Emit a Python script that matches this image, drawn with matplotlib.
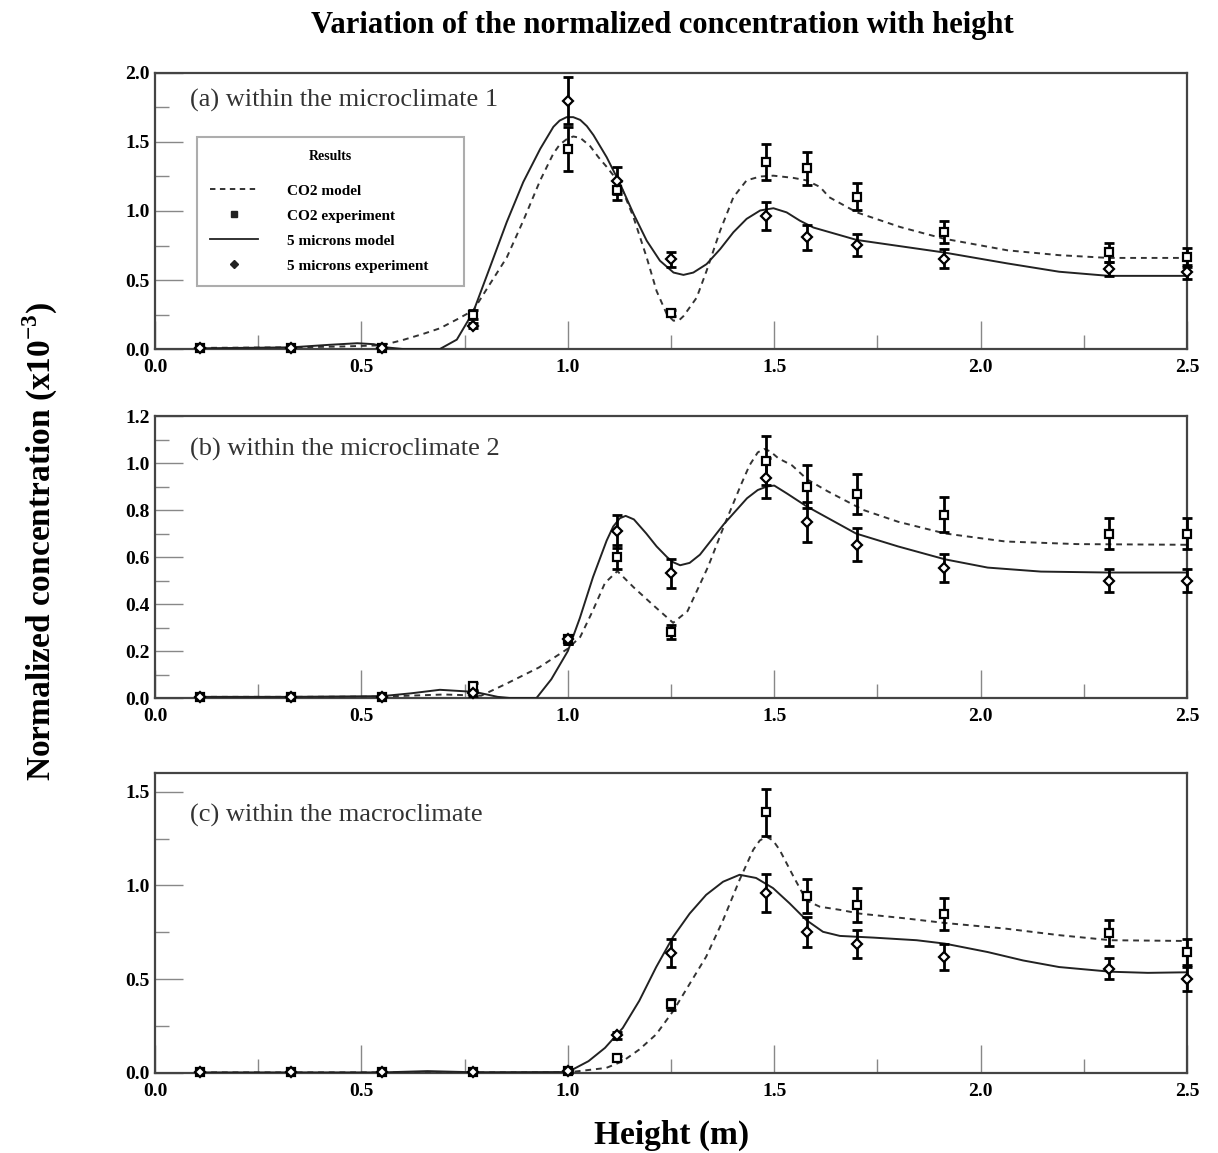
import matplotlib
matplotlib.use("Agg")
import matplotlib.pyplot as plt
from matplotlib.lines import Line2D
from matplotlib.ticker import MultipleLocator, FormatStrFormatter

plt.rcParams['font.family'] = ['Liberation Serif', 'DejaVu Serif']
plt.rcParams['mathtext.fontset'] = 'custom'
plt.rcParams['mathtext.rm'] = 'Liberation Serif'
plt.rcParams['mathtext.bf'] = 'Liberation Serif:bold'

# measurement heights (m)
heights = [0.11, 0.33, 0.55, 0.77, 1.00, 1.12, 1.25, 1.48, 1.58, 1.70, 1.91, 2.31, 2.50]

# (a) microclimate 1 - experiments
co2_exp_a = [0.005, 0.005, 0.005, 0.25, 1.45, 1.15, 0.26, 1.355, 1.31, 1.105, 0.85, 0.70, 0.665]
co2_err_a = [0, 0, 0, 0.03, 0.16, 0.07, 0.02, 0.13, 0.12, 0.10, 0.08, 0.07, 0.07]
p5_exp_a = [0.005, 0.005, 0.01, 0.17, 1.80, 1.22, 0.65, 0.965, 0.81, 0.755, 0.655, 0.58, 0.56]
p5_err_a = [0, 0, 0, 0.02, 0.17, 0.10, 0.055, 0.10, 0.09, 0.08, 0.07, 0.05, 0.05]

# (a) models
co2_mod_a_x = [0.11, 0.33, 0.45, 0.55, 0.60, 0.65, 0.69, 0.731, 0.771, 0.811, 0.852, 0.892, 0.933,
               0.965, 0.980, 0.997, 1.013, 1.030, 1.054, 1.074, 1.094, 1.126, 1.159, 1.191, 1.215,
               1.240, 1.256, 1.270, 1.280, 1.312, 1.336, 1.369, 1.401, 1.433, 1.466, 1.498, 1.546,
               1.578, 1.611, 1.633, 1.70, 1.805, 1.91, 2.065, 2.19, 2.31, 2.50]
co2_mod_a_y = [0.008, 0.012, 0.018, 0.027, 0.065, 0.11, 0.15, 0.214, 0.28, 0.47, 0.663, 0.93, 1.222,
               1.417, 1.48, 1.52, 1.54, 1.53, 1.47, 1.39, 1.32, 1.198, 0.955, 0.663, 0.42,
               0.25, 0.205, 0.21, 0.238, 0.372, 0.566, 0.858, 1.10, 1.222, 1.25, 1.256, 1.24,
               1.222, 1.174, 1.10, 0.99, 0.884, 0.80, 0.715, 0.68, 0.66, 0.66]
p5_mod_a_x = [0.11, 0.33, 0.42, 0.49, 0.53, 0.56, 0.60, 0.69, 0.731, 0.771, 0.811, 0.852, 0.892,
              0.933, 0.965, 0.980, 0.997, 1.013, 1.030, 1.046, 1.062, 1.094, 1.126, 1.159, 1.191,
              1.223, 1.256, 1.280, 1.304, 1.336, 1.369, 1.401, 1.433, 1.466, 1.498, 1.530, 1.562,
              1.595, 1.70, 1.91, 2.065, 2.19, 2.31, 2.50]
p5_mod_a_y = [0.005, 0.012, 0.03, 0.042, 0.035, 0.012, 0.0, 0.0, 0.068, 0.27, 0.59, 0.92, 1.21,
              1.45, 1.61, 1.655, 1.68, 1.68, 1.66, 1.615, 1.55, 1.39, 1.20, 0.98, 0.785,
              0.64, 0.554, 0.537, 0.554, 0.615, 0.724, 0.846, 0.943, 1.004, 1.02, 0.99, 0.93,
              0.88, 0.79, 0.70, 0.62, 0.56, 0.53, 0.53]

# (b) microclimate 2 - experiments
co2_exp_b = [0.005, 0.005, 0.005, 0.05, 0.25, 0.60, 0.28, 1.01, 0.90, 0.868, 0.78, 0.70, 0.70]
co2_err_b = [0, 0, 0, 0.015, 0.02, 0.05, 0.03, 0.105, 0.09, 0.085, 0.075, 0.065, 0.065]
p5_exp_b = [0.005, 0.005, 0.005, 0.02, 0.25, 0.71, 0.53, 0.935, 0.75, 0.652, 0.552, 0.50, 0.50]
p5_err_b = [0, 0, 0, 0.01, 0.02, 0.07, 0.06, 0.085, 0.085, 0.07, 0.06, 0.05, 0.05]

co2_mod_b_x = [0.11, 0.33, 0.55, 0.70, 0.79, 0.85, 0.93, 1.00, 1.03, 1.06, 1.09, 1.12, 1.16, 1.21,
               1.255, 1.29, 1.34, 1.38, 1.42, 1.44, 1.46, 1.475, 1.49, 1.51, 1.543, 1.58, 1.629,
               1.716, 1.80, 1.914, 2.06, 2.233, 2.50]
co2_mod_b_y = [0.005, 0.005, 0.006, 0.015, 0.01, 0.06, 0.13, 0.21, 0.26, 0.37, 0.49, 0.54, 0.47, 0.39,
               0.32, 0.37, 0.56, 0.74, 0.91, 0.99, 1.045, 1.06, 1.05, 1.02, 0.99, 0.93, 0.88,
               0.80, 0.75, 0.70, 0.666, 0.655, 0.652]
p5_mod_b_x = [0.11, 0.33, 0.55, 0.62, 0.69, 0.775, 0.83, 0.86, 0.924, 0.96, 1.00, 1.029, 1.061,
              1.094, 1.11, 1.126, 1.14, 1.16, 1.19, 1.215, 1.24, 1.255, 1.272, 1.295, 1.32, 1.378,
              1.434, 1.46, 1.482, 1.50, 1.531, 1.578, 1.698, 1.80, 1.914, 2.017, 2.146, 2.31, 2.50]
p5_mod_b_y = [0.005, 0.005, 0.008, 0.02, 0.035, 0.026, 0.005, 0.0, 0.0, 0.08, 0.20, 0.34, 0.515,
              0.67, 0.73, 0.765, 0.775, 0.76, 0.70, 0.645, 0.60, 0.578, 0.565, 0.575, 0.61, 0.74,
              0.85, 0.885, 0.90, 0.904, 0.87, 0.816, 0.70, 0.645, 0.59, 0.555, 0.538, 0.534, 0.534]

# (c) macroclimate - experiments
co2_exp_c = [0.003, 0.003, 0.003, 0.003, 0.01, 0.08, 0.367, 1.39, 0.944, 0.896, 0.848, 0.747, 0.645]
co2_err_c = [0, 0, 0, 0, 0.01, 0.01, 0.03, 0.125, 0.09, 0.09, 0.085, 0.07, 0.07]
p5_exp_c = [0.003, 0.003, 0.003, 0.003, 0.01, 0.20, 0.64, 0.96, 0.75, 0.69, 0.618, 0.556, 0.50]
p5_err_c = [0, 0, 0, 0, 0.01, 0.02, 0.075, 0.10, 0.08, 0.075, 0.07, 0.055, 0.065]

co2_mod_c_x = [0.11, 0.55, 0.77, 1.00, 1.093, 1.133, 1.173, 1.214, 1.255, 1.295, 1.335, 1.376,
               1.416, 1.449, 1.465, 1.481, 1.497, 1.513, 1.546, 1.578, 1.61, 1.659, 1.707, 1.82,
               1.913, 2.06, 2.19, 2.315, 2.50]
co2_mod_c_y = [0.003, 0.003, 0.003, 0.003, 0.027, 0.063, 0.125, 0.206, 0.33, 0.475, 0.62, 0.815,
               1.03, 1.19, 1.24, 1.26, 1.24, 1.19, 1.05, 0.92, 0.887, 0.87, 0.85, 0.824,
               0.80, 0.77, 0.735, 0.708, 0.704]
p5_mod_c_x = [0.11, 0.55, 0.66, 0.77, 1.00, 1.05, 1.09, 1.133, 1.173, 1.214, 1.255, 1.295, 1.335,
              1.376, 1.416, 1.456, 1.497, 1.537, 1.578, 1.618, 1.659, 1.74, 1.845, 1.913, 2.017,
              2.103, 2.19, 2.315, 2.405, 2.50]
p5_mod_c_y = [0.003, 0.003, 0.01, 0.004, 0.005, 0.063, 0.134, 0.24, 0.385, 0.565, 0.726, 0.85, 0.95,
              1.02, 1.057, 1.04, 0.986, 0.905, 0.815, 0.753, 0.731, 0.722, 0.708, 0.69, 0.645,
              0.60, 0.565, 0.54, 0.534, 0.537]

panel_labels = ["(a) within the microclimate 1", "(b) within the microclimate 2",
                "(c) within the macroclimate"]


def draw_points(ax, y, err, marker):
    """open markers with capped error bars (bars only where there is an error)"""
    idx = [i for i in range(len(err)) if err[i] > 0]
    ax.errorbar([heights[i] for i in idx], [y[i] for i in idx], yerr=[err[i] for i in idx],
                fmt='none', ecolor='black', elinewidth=2.0, capsize=3.5, capthick=2.0,
                clip_on=False, zorder=4)
    ax.plot(heights, y, ls='none', marker=marker, ms=5.5, mfc='white', mec='black', mew=1.6,
            clip_on=False, zorder=5)


def draw_panel(ax, co2x, co2y, p5x, p5y, co2, co2e, p5, p5e, label, ymax, ymaj, ymin, label_y):
    ax.plot(co2x, co2y, ls=(0, (3, 2.5)), color='#333333', lw=1.4, zorder=3)
    ax.plot(p5x, p5y, ls='-', color='#222222', lw=1.4, zorder=3)
    draw_points(ax, co2, co2e, 's')
    draw_points(ax, p5, p5e, 'D')

    ax.set_xlim(0, 2.5)
    ax.set_ylim(0, ymax)
    ax.xaxis.set_major_locator(MultipleLocator(0.5))
    ax.xaxis.set_minor_locator(MultipleLocator(0.25))
    ax.yaxis.set_major_locator(MultipleLocator(ymaj))
    ax.yaxis.set_minor_locator(MultipleLocator(ymin))
    ax.xaxis.set_major_formatter(FormatStrFormatter('%.1f'))
    ax.yaxis.set_major_formatter(FormatStrFormatter('%.1f'))
    ax.tick_params(which='both', direction='in', color='#888888', width=1.0)
    ax.tick_params(which='major', length=20, labelsize=14)
    ax.tick_params(axis='x', which='major', pad=7)
    ax.tick_params(axis='y', which='major', pad=4)
    ax.tick_params(which='minor', length=10)
    for t in ax.get_xticklabels() + ax.get_yticklabels():
        t.set_fontweight('bold')
    for s in ax.spines.values():
        s.set_color('#444444')
        s.set_linewidth(1.6)
    ax.text(0.034, label_y, label, transform=ax.transAxes, fontsize=19, color='#333333',
            va='center', ha='left')


fig = plt.figure(figsize=(12.18, 11.53), dpi=100)
ax_a = fig.add_axes([0.1273, 0.6973, 0.8473, 0.2394])
ax_b = fig.add_axes([0.1273, 0.3946, 0.8473, 0.2446])
ax_c = fig.add_axes([0.1273, 0.0694, 0.8473, 0.2602])

draw_panel(ax_a, co2_mod_a_x, co2_mod_a_y, p5_mod_a_x, p5_mod_a_y,
           co2_exp_a, co2_err_a, p5_exp_a, p5_err_a, panel_labels[0], 2.0, 0.5, 0.25, 0.90)
draw_panel(ax_b, co2_mod_b_x, co2_mod_b_y, p5_mod_b_x, p5_mod_b_y,
           co2_exp_b, co2_err_b, p5_exp_b, p5_err_b, panel_labels[1], 1.2, 0.2, 0.1, 0.88)
draw_panel(ax_c, co2_mod_c_x, co2_mod_c_y, p5_mod_c_x, p5_mod_c_y,
           co2_exp_c, co2_err_c, p5_exp_c, p5_err_c, panel_labels[2], 1.6, 0.5, 0.25, 0.857)

# legend in panel (a)
handles = [
    Line2D([], [], ls=(0, (3, 2.5)), color='#222222', lw=1.3),
    Line2D([], [], ls='none', marker='s', ms=4, color='#222222'),
    Line2D([], [], ls='-', color='#222222', lw=1.3),
    Line2D([], [], ls='none', marker='D', ms=4, color='#222222'),
]
names = ["CO2 model", "CO2 experiment", "5 microns model", "5 microns experiment"]
leg = ax_a.legend(handles, names, title="Results", loc='upper left',
                  bbox_to_anchor=(0.041, 0.768, 0.258, 0.0), mode='expand',
                  prop={'weight': 'bold', 'size': 11}, title_fontproperties={'weight': 'bold', 'size': 10},
                  frameon=True, fancybox=False, edgecolor='#999999', handlelength=3.1,
                  handletextpad=1.9, labelspacing=0.74, borderpad=0.85, borderaxespad=0)
leg.get_frame().set_linewidth(1.5)
leg._legend_box.sep = 15

fig.text(0.5435, 1 - 25 / 1153, "Variation of the normalized concentration with height",
         ha='center', va='center', fontsize=22, fontweight='bold')
fig.text(40 / 1218, 1 - 541 / 1153, "Normalized concentration (x10$^{\\mathbf{-3}}$)",
         ha='center', va='center', rotation=90, fontsize=24, fontweight='bold')
fig.text(672 / 1218, 1 - 1135 / 1153, "Height (m)", ha='center', va='center',
         fontsize=24, fontweight='bold')

fig.savefig("out.png", dpi=100)
